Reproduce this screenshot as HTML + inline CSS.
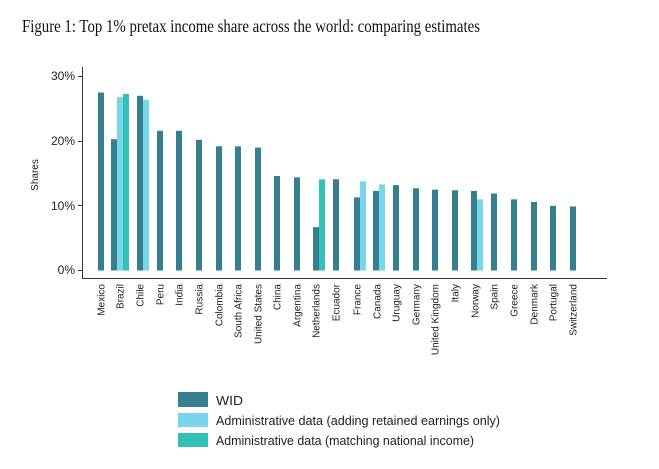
<!DOCTYPE html>
<html><head><meta charset="utf-8"><style>
html,body{margin:0;padding:0;background:#fff;}
svg{display:block;}
</style></head><body>
<svg width="659" height="469" xmlns="http://www.w3.org/2000/svg">
<rect width="659" height="469" fill="#fff"/>
<text x="22" y="32" font-family="Liberation Serif, serif" font-size="18" textLength="458" lengthAdjust="spacingAndGlyphs" fill="#111">Figure 1: Top 1% pretax income share across the world: comparing estimates</text>
<g font-family="Liberation Sans, sans-serif" fill="#222">
<text transform="translate(38,175) rotate(-90)" font-size="10" text-anchor="middle">Shares</text>
<g font-size="12" text-anchor="end">
<text x="75" y="80">30%</text>
<text x="75" y="145">20%</text>
<text x="75" y="210">10%</text>
<text x="75" y="274">0%</text>
</g>
</g>
<g stroke="#333" stroke-width="1">
<line x1="82.5" y1="67" x2="82.5" y2="279"/>
<line x1="82" y1="278.5" x2="607" y2="278.5"/>
<line x1="78" y1="76.5" x2="82" y2="76.5"/>
<line x1="78" y1="141.5" x2="82" y2="141.5"/>
<line x1="78" y1="205.5" x2="82" y2="205.5"/>
<line x1="78" y1="270.5" x2="82" y2="270.5"/>
</g>
<g id="bars"></g>
<g id="labels" font-family="Liberation Sans, sans-serif" font-size="10" fill="#222"></g>
<g font-family="Liberation Sans, sans-serif" font-size="12.5" fill="#222">
<rect x="178" y="392" width="30" height="15" fill="#367f8e"/>
<rect x="178" y="413" width="30" height="14" fill="#78d6ea"/>
<rect x="178" y="433" width="30" height="14" fill="#33c1b4"/>
<text x="216" y="405" textLength="27" lengthAdjust="spacingAndGlyphs">WID</text>
<text x="216" y="425" textLength="284" lengthAdjust="spacingAndGlyphs">Administrative data (adding retained earnings only)</text>
<text x="216" y="445" textLength="258" lengthAdjust="spacingAndGlyphs">Administrative data (matching national income)</text>
</g>
<script>
var W="#367f8e",L="#78d6ea",G="#33c1b4";
var d=[["Mexico",101,[[101,27.5,W]]],["Brazil",120,[[114,20.3,W],[120,26.8,L],[126,27.3,G]]],
["Chile",140,[[140,27,W],[146,26.4,L]]],["Peru",160,[[160,21.6,W]]],["India",179,[[179,21.6,W]]],
["Russia",199,[[199,20.2,W]]],["Colombia",219,[[219,19.2,W]]],["South Africa",238,[[238,19.2,W]]],
["United States",258,[[258,19,W]]],["China",277,[[277,14.6,W]]],["Argentina",297,[[297,14.4,W]]],
["Netherlands",316,[[316,6.7,W],[322,14.1,G]]],["Ecuador",336,[[336,14.1,W]]],
["France",357,[[357,11.3,W],[363,13.8,L]]],["Canada",377,[[376,12.3,W],[382,13.3,L]]],
["Uruguay",396,[[396,13.2,W]]],["Germany",416,[[416,12.7,W]]],["United Kingdom",435,[[435,12.5,W]]],
["Italy",455,[[455,12.4,W]]],["Norway",475,[[474,12.3,W],[480,11.0,L]]],["Spain",494,[[494,11.9,W]]],
["Greece",514,[[514,11.0,W]]],["Denmark",534,[[534,10.6,W]]],["Portugal",553,[[553,10.0,W]]],
["Switzerland",573,[[573,9.9,W]]]];
var ns="http://www.w3.org/2000/svg",b=document.getElementById("bars"),lb=document.getElementById("labels");
d.forEach(function(c){
 c[2].forEach(function(r){var h=r[1]*6.47;var e=document.createElementNS(ns,"rect");
 e.setAttribute("x",r[0]-3);e.setAttribute("y",270.5-h);e.setAttribute("width",6);e.setAttribute("height",h);e.setAttribute("fill",r[2]);b.appendChild(e);});
 var t=document.createElementNS(ns,"text");t.setAttribute("transform","translate("+(c[1]+3.5)+",284) rotate(-90)");
 t.setAttribute("text-anchor","end");t.textContent=c[0];lb.appendChild(t);
});
</script>
</svg>
</body></html>
